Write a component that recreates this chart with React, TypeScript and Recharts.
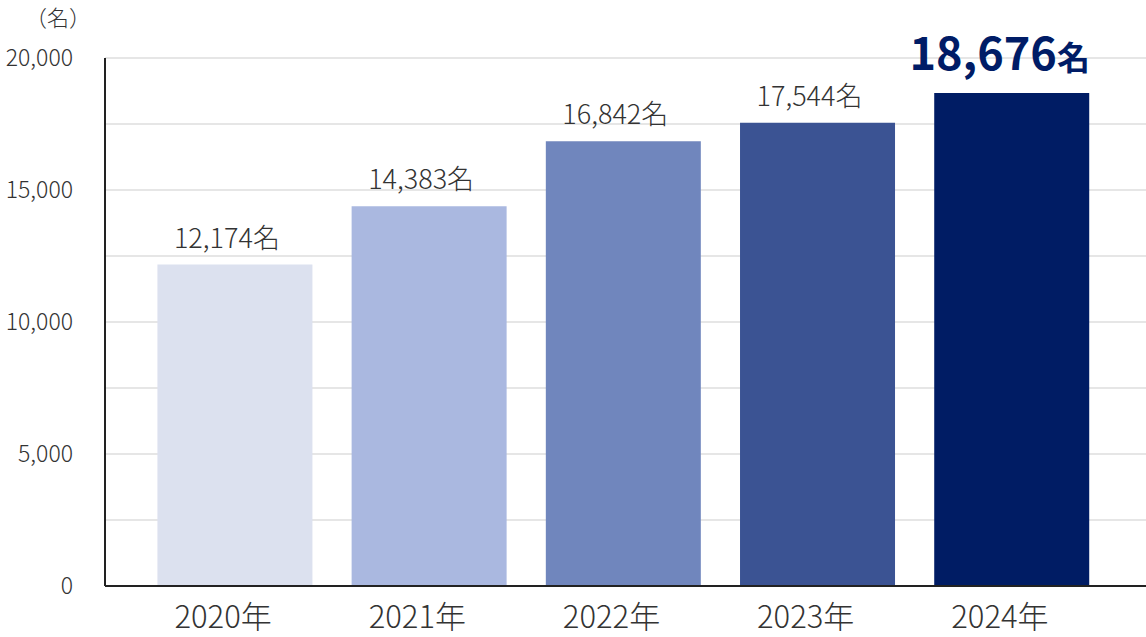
import { BarChart, Bar, XAxis, YAxis, CartesianGrid, Cell, LabelList } from "recharts";

const years = ["2020年", "2021年", "2022年", "2023年", "2024年"];
const members = [12174, 14383, 16842, 17544, 18676];
const barColors = ["#dce1ef", "#aab8e0", "#7086bd", "#3b5393", "#001c64"];
const yTicks = [0, 5000, 10000, 15000, 20000];
const gridValues = [0, 2500, 5000, 7500, 10000, 12500, 15000, 17500, 20000];

const FONT = '"Noto Sans CJK JP", "Noto Sans", sans-serif';

const data = years.map((year, i) => ({ year, value: members[i] }));

function ValueLabel(props: any) {
  const { x, y, width, value, index } = props;
  const cx = x + width / 2;
  const text = Number(value).toLocaleString("en-US");
  if (index === data.length - 1) {
    return (
      <text x={cx - 12} y={y - 23} textAnchor="middle" fill="#001c66" fontFamily={FONT} fontWeight={700}>
        <tspan fontSize={45}>{text}</tspan>
        <tspan fontSize={33}>名</tspan>
      </text>
    );
  }
  return (
    <text x={cx - 8} y={y - 17} textAnchor="middle" fill="#333" fontFamily={FONT} fontSize={27} fontWeight={300}>
      {text}名
    </text>
  );
}

function YearTick(props: any) {
  const { x, y, payload } = props;
  return (
    <text x={x - 12} y={y + 34} textAnchor="middle" fill="#333" fontFamily={FONT} fontSize={31} fontWeight={300}>
      {payload.value}
    </text>
  );
}

export default function App() {
  return (
    <div style={{ position: "absolute", left: 0, top: 0, width: 1146, height: 637, background: "#fff" }}>
      <svg style={{ position: "absolute", left: 0, top: 0 }} width={120} height={40}>
        <text x={58} y={26} textAnchor="middle" fill="#333" fontFamily={FONT} fontSize={22} fontWeight={300}>
          （名）
        </text>
      </svg>
      <BarChart
        width={1146}
        height={637}
        data={data}
        margin={{ top: 58, right: 0, bottom: 11, left: 0 }}
        barCategoryGap="10%"
      >
        <CartesianGrid vertical={false} stroke="#e6e6e6" strokeWidth={2} horizontalValues={gridValues} />
        <XAxis
          dataKey="year"
          axisLine={{ stroke: "#222", strokeWidth: 2 }}
          tickLine={false}
          height={40}
          padding={{ left: 33, right: 37 }}
          tick={YearTick}
        />
        <YAxis
          domain={[0, 20000]}
          ticks={yTicks}
          width={105}
          axisLine={{ stroke: "#222", strokeWidth: 2 }}
          tickLine={false}
          tickMargin={26}
          tickFormatter={(v: number) => v.toLocaleString("en-US")}
          tick={{ fill: "#333", fontSize: 23, fontFamily: FONT, fontWeight: 300 }}
        />
        <Bar dataKey="value" isAnimationActive={false}>
          {data.map((d, i) => (
            <Cell key={d.year} fill={barColors[i]} />
          ))}
          <LabelList dataKey="value" content={ValueLabel} />
        </Bar>
      </BarChart>
    </div>
  );
}
